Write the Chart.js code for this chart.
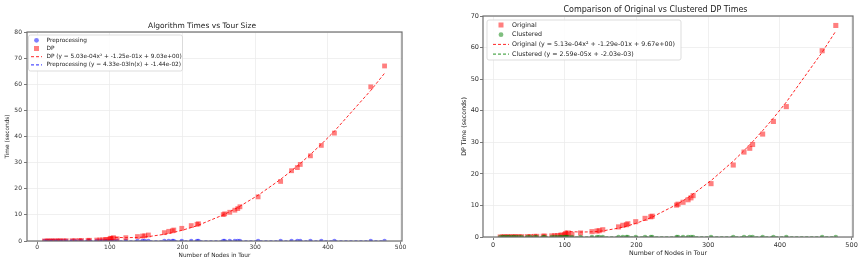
<!DOCTYPE html>
<html>
<head>
<meta charset="utf-8">
<script src="https://cdn.jsdelivr.net/npm/chart.js@4"></script>
<style>
    body { margin: 0; background: #fff; }
    canvas { position: absolute; top: 0; }
    #left-chart { left: 0; }
    #right-chart { left: 432px; }
</style>
</head>
<body>
<canvas id="left-chart" width="432" height="263"></canvas>
<canvas id="right-chart" width="432" height="263"></canvas>
<script>
// tour sizes (nodes) shared by both plots
const nodes = [10, 14, 16, 20, 22, 26, 29, 32, 36, 40, 48, 52, 58, 61, 70, 72, 82, 86, 90, 94,
    96, 100, 101, 103, 105, 110, 122, 138, 145, 148, 153, 175, 181, 186, 188, 199, 212, 220, 222, 256,
    258, 265, 272, 276, 279, 304, 335, 350, 358, 362, 376, 391, 409, 459, 478];

// DP / original times (seconds)
const dpTimes = [0.01, 0.02, 0.02, 0.03, 0.03, 0.05, 0.06, 0.07, 0.08, 0.10, 0.12, 0.14, 0.18, 0.20, 0.25, 0.27, 0.35, 0.40, 0.45, 0.55,
    0.60, 0.75, 1.05, 0.90, 1.27, 0.85, 1.27, 1.70, 1.90, 2.00, 2.30, 3.20, 3.70, 3.90, 4.20, 4.85, 5.90, 6.40, 6.60, 10.1,
    10.4, 11.0, 11.8, 12.4, 13.1, 16.9, 22.8, 26.9, 28.1, 29.3, 32.6, 36.6, 41.3, 59.0, 67.0];

// preprocessing times (seconds), all close to zero
const prepTimes = [0.004, 0.005, 0.005, 0.006, 0.006, 0.007, 0.007, 0.008, 0.008, 0.009, 0.010, 0.010, 0.011, 0.011, 0.012, 0.012, 0.013, 0.013, 0.014, 0.014,
    0.014, 0.015, 0.015, 0.015, 0.015, 0.016, 0.016, 0.017, 0.017, 0.017, 0.018, 0.018, 0.019, 0.019, 0.019, 0.020, 0.020, 0.021, 0.021, 0.022,
    0.022, 0.022, 0.023, 0.023, 0.023, 0.024, 0.025, 0.025, 0.026, 0.026, 0.026, 0.027, 0.027, 0.028, 0.029];

// clustered DP times (seconds)
const clusteredTimes = [0.001, 0.001, 0.001, 0.001, 0.001, 0.001, 0.001, 0.001, 0.002, 0.002, 0.002, 0.002, 0.002, 0.002, 0.002, 0.002, 0.002, 0.002, 0.003, 0.003,
    0.003, 0.003, 0.003, 0.003, 0.003, 0.003, 0.003, 0.004, 0.004, 0.004, 0.004, 0.004, 0.004, 0.005, 0.005, 0.005, 0.005, 0.005, 0.005, 0.006,
    0.006, 0.006, 0.006, 0.006, 0.006, 0.007, 0.008, 0.008, 0.008, 0.008, 0.009, 0.009, 0.010, 0.011, 0.012];

// fit coefficients, as printed in the legends
const dpFit = [5.03e-4, -1.25e-1, 9.03];
const prepFit = [4.33e-3, -1.44e-2];
const origFit = [5.13e-4, -1.29e-1, 9.67];
const clusFit = [2.59e-5, -2.03e-3];
const fitStart = 100; // quadratic fit lines are only drawn from here

const xTicks = [0, 100, 200, 300, 400, 500];
const leftYTicks = [0, 10, 20, 30, 40, 50, 60, 70, 80];
const rightYTicks = [0, 10, 20, 30, 40, 50, 60, 70];

const FONT = "'DejaVu Sans', sans-serif";
const RED_PT = 'rgba(255, 0, 0, 0.5)';
const BLUE_PT = 'rgba(0, 0, 255, 0.5)';
const GREEN_PT = 'rgba(0, 128, 0, 0.5)';

function quadCurve(c) {
    return nodes.filter(n => n >= fitStart).map(n => ({ x: n, y: c[0] * n * n + c[1] * n + c[2] }));
}
function logCurve(c) {
    return nodes.map(n => ({ x: n, y: c[0] * Math.log(n) + c[1] }));
}
function linCurve(c) {
    return nodes.map(n => ({ x: n, y: c[0] * n + c[1] }));
}
function pts(ys) {
    return nodes.map((n, i) => ({ x: n, y: ys[i] }));
}

// frame around the plot area + legend box like matplotlib
const framePlugin = {
    id: 'frame',
    afterDraw(chart, args, opts) {
        const { ctx, chartArea: a } = chart;
        ctx.save();
        ctx.strokeStyle = '#6e6e6e';
        ctx.lineWidth = 1.2;
        ctx.strokeRect(a.left, a.top, a.right - a.left, a.bottom - a.top);

        const lg = opts.legend;
        const bx = a.left + lg.x, by = a.top + lg.y;
        ctx.fillStyle = 'rgba(255,255,255,0.85)';
        ctx.strokeStyle = '#d4d4d4';
        ctx.lineWidth = 0.8;
        ctx.beginPath();
        ctx.roundRect(bx, by, lg.w, lg.h, 2);
        ctx.fill();
        ctx.stroke();

        ctx.font = lg.font + 'px ' + FONT;
        ctx.textBaseline = 'middle';
        lg.items.forEach((it, i) => {
            const y = by + lg.rowTop + i * lg.rowGap;
            const mx = bx + lg.markerX;
            if (it.kind === 'square') {
                ctx.fillStyle = it.color;
                ctx.fillRect(mx - 2.5, y - 2.5, 5, 5);
            } else if (it.kind === 'circle') {
                ctx.fillStyle = it.color;
                ctx.beginPath();
                ctx.arc(mx, y, 2.4, 0, Math.PI * 2);
                ctx.fill();
            } else {
                ctx.strokeStyle = it.color;
                ctx.lineWidth = 1;
                ctx.setLineDash([3, 2]);
                ctx.beginPath();
                ctx.moveTo(mx - lg.lineLen / 2, y);
                ctx.lineTo(mx + lg.lineLen / 2, y);
                ctx.stroke();
                ctx.setLineDash([]);
            }
            ctx.fillStyle = '#222';
            ctx.fillText(it.label, bx + lg.textX, y);
        });
        ctx.restore();
    }
};

function makeChart(id, s) {
    const ctx = document.getElementById(id).getContext('2d');
    return new Chart(ctx, {
        type: 'scatter',
        data: { datasets: s.datasets },
        plugins: [framePlugin],
        options: {
            responsive: false,
            animation: false,
            devicePixelRatio: 1,
            layout: { padding: s.padding },
            plugins: {
                legend: { display: false },
                tooltip: { enabled: false },
                title: {
                    display: true,
                    text: s.title,
                    color: '#222',
                    font: { family: FONT, size: s.titleSize, weight: 'normal' },
                    padding: s.titlePad
                },
                frame: { legend: s.legend }
            },
            scales: {
                x: {
                    type: 'linear',
                    min: -14,
                    max: 502,
                    afterBuildTicks: sc => { sc.ticks = xTicks.map(v => ({ value: v })); },
                    afterFit: sc => { sc.height = s.xHeight; },
                    grid: { color: '#ececec', lineWidth: 0.8, tickLength: 3, tickColor: '#555' },
                    border: { display: false },
                    ticks: { color: '#333', font: { family: FONT, size: s.tickSize }, padding: s.xTickPad, maxRotation: 0 },
                    title: {
                        display: true,
                        text: 'Number of Nodes in Tour',
                        color: '#222',
                        font: { family: FONT, size: s.labelSize },
                        padding: s.xTitlePad
                    }
                },
                y: {
                    type: 'linear',
                    min: 0,
                    max: s.yMax,
                    afterBuildTicks: sc => { sc.ticks = s.yTicks.map(v => ({ value: v })); },
                    afterFit: sc => { sc.width = s.yWidth; },
                    grid: { color: '#ececec', lineWidth: 0.8, tickLength: 3, tickColor: '#555' },
                    border: { display: false },
                    ticks: { color: '#333', font: { family: FONT, size: s.tickSize }, padding: s.yTickPad },
                    title: {
                        display: true,
                        text: s.yLabel,
                        color: '#222',
                        font: { family: FONT, size: s.labelSize },
                        padding: s.yTitlePad
                    }
                }
            }
        }
    });
}

// left: algorithm times
makeChart('left-chart', {
    title: 'Algorithm Times vs Tour Size',
    titleSize: 7.5,
    titlePad: { top: 22, bottom: 1 },
    tickSize: 6,
    labelSize: 5.8,
    padding: { left: 2, right: 30, top: 0, bottom: 0 },
    yWidth: 25,
    xHeight: 22,
    xTickPad: 0,
    yTickPad: 2,
    xTitlePad: { top: 0, bottom: 4 },
    yTitlePad: { top: 2, bottom: 0 },
    yMax: 80,
    yTicks: leftYTicks,
    yLabel: 'Time (seconds)',
    datasets: [
        { label: 'DP fit', type: 'line', data: quadCurve(dpFit), borderColor: 'rgba(255,0,0,0.85)', borderWidth: 1, borderDash: [3, 2], pointRadius: 0, fill: false, order: 0 },
        { label: 'Preprocessing fit', type: 'line', data: logCurve(prepFit), borderColor: 'rgba(0,0,255,0.85)', borderWidth: 1, borderDash: [3, 2], pointRadius: 0, fill: false, order: 0 },
        { label: 'DP', data: pts(dpTimes), backgroundColor: RED_PT, borderWidth: 0, pointStyle: 'rect', pointRadius: 3.4, order: 1 },
        { label: 'Preprocessing', data: pts(prepTimes), backgroundColor: BLUE_PT, borderWidth: 0, pointRadius: 2.2, order: 2 }
    ],
    legend: {
        x: 1.5, y: 3, w: 154, h: 36, font: 5.8,
        rowTop: 5.3, rowGap: 8.2, markerX: 8, textX: 18, lineLen: 11,
        items: [
            { kind: 'circle', color: BLUE_PT, label: 'Preprocessing' },
            { kind: 'square', color: RED_PT, label: 'DP' },
            { kind: 'line', color: 'rgba(255,0,0,0.85)', label: 'DP (y = 5.03e-04x² + -1.25e-01x + 9.03e+00)' },
            { kind: 'line', color: 'rgba(0,0,255,0.85)', label: 'Preprocessing (y = 4.33e-03ln(x) + -1.44e-02)' }
        ]
    }
});

// right: original vs clustered
makeChart('right-chart', {
    title: 'Comparison of Original vs Clustered DP Times',
    titleSize: 8,
    titlePad: { top: 5, bottom: 1.4 },
    tickSize: 6.5,
    labelSize: 6.3,
    padding: { left: 26, right: 11, top: 0, bottom: 0 },
    yWidth: 25,
    xHeight: 26,
    xTickPad: 1,
    yTickPad: 1,
    xTitlePad: { top: 0, bottom: 5.5 },
    yTitlePad: { top: 2.5, bottom: 0 },
    yMax: 70,
    yTicks: rightYTicks,
    yLabel: 'DP Time (seconds)',
    datasets: [
        { label: 'Original fit', type: 'line', data: quadCurve(origFit), borderColor: 'rgba(255,0,0,0.85)', borderWidth: 1, borderDash: [3, 2], pointRadius: 0, fill: false, order: 0 },
        { label: 'Clustered fit', type: 'line', data: linCurve(clusFit), borderColor: 'rgba(0,128,0,0.85)', borderWidth: 1, borderDash: [3, 2], pointRadius: 0, fill: false, order: 0 },
        { label: 'Clustered', data: pts(clusteredTimes), backgroundColor: GREEN_PT, borderWidth: 0, pointRadius: 2.3, order: 1 },
        { label: 'Original', data: pts(dpTimes), backgroundColor: RED_PT, borderWidth: 0, pointStyle: 'rect', pointRadius: 3.6, order: 2 }
    ],
    legend: {
        x: 4, y: 4, w: 194, h: 40, font: 6.3,
        rowTop: 5, rowGap: 9.7, markerX: 14, textX: 25, lineLen: 16,
        items: [
            { kind: 'square', color: RED_PT, label: 'Original' },
            { kind: 'circle', color: GREEN_PT, label: 'Clustered' },
            { kind: 'line', color: 'rgba(255,0,0,0.85)', label: 'Original (y = 5.13e-04x² + -1.29e-01x + 9.67e+00)' },
            { kind: 'line', color: 'rgba(0,128,0,0.85)', label: 'Clustered (y = 2.59e-05x + -2.03e-03)' }
        ]
    }
});
</script>
</body>
</html>
